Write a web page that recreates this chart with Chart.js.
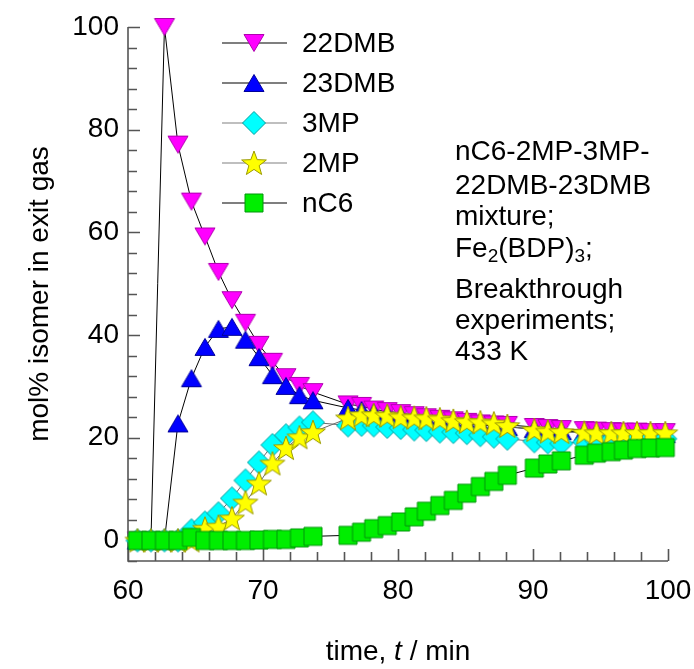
<!DOCTYPE html>
<html>
<head>
<meta charset="utf-8">
<script src="https://cdn.jsdelivr.net/npm/chart.js@4.4.1/dist/chart.umd.min.js"></script>
<style>
  html, body { margin: 0; padding: 0; background: #fff; }
  #wrap { width: 694px; height: 669px; }
</style>
</head>
<body>
<div id="wrap"><canvas id="c" width="694" height="669"></canvas></div>
<script>
// Sampling times (min) of the exit-gas analysis
const times = [60.7, 61.7, 62.7, 63.7, 64.7, 65.7, 66.7, 67.7, 68.7, 69.7, 70.7, 71.7, 72.7, 73.7,
  76.3, 77.3, 78.2, 79.2, 80.2, 81.2, 82.1, 83.1, 84.1, 85.1, 86.1, 87.1, 88.1,
  90.1, 91.1, 92.1,
  93.8, 94.7, 95.8, 96.7, 97.7, 98.7, 99.8];

// mol% of each isomer in the exit gas
const dmb22 = [0, 0, 100, 77.1, 66.0, 59.2, 52.3, 46.8, 42.4, 38.1, 34.8, 31.8, 30.1, 28.9,
  26.5, 26.2, 25.5, 25.2, 24.8, 24.4, 24.0, 23.7, 23.4, 23.1, 22.8, 22.6, 22.5,
  22.1, 21.9, 21.7,
  21.5, 21.4, 21.3, 21.2, 21.2, 21.1, 21.1];
const dmb23 = [0, 0, 0, 22.8, 31.6, 37.7, 41.2, 41.6, 39.1, 35.7, 32.2, 30.1, 28.3, 27.3,
  25.8, 25.4, 24.9, 24.6, 24.2, 23.9, 23.6, 23.3, 23.0, 22.8, 22.5, 22.3, 22.1,
  21.7, 21.5, 21.3,
  21.1, 21.0, 20.9, 20.9, 20.8, 20.8, 20.7];
const mp3 = [0, 0, 0, 0, 2.0, 3.5, 5.3, 8.2, 11.7, 15.2, 18.6, 20.5, 22.0, 23.0,
  22.4, 22.5, 22.4, 22.1, 21.9, 21.6, 21.5, 21.2, 21.1, 20.9, 20.5, 20.2, 19.8,
  19.3, 19.1, 18.9,
  19.2, 19.4, 19.5, 19.6, 19.7, 19.7, 19.8];
const mp2 = [0, 0, 0, 0, 0, 2.3, 2.7, 4.3, 7.4, 11.1, 15.0, 18.0, 20.1, 21.1,
  23.8, 24.4, 24.4, 24.3, 24.0, 23.9, 23.8, 23.6, 23.3, 23.1, 23.0, 22.8, 22.3,
  21.5, 21.2, 21.1,
  21.0, 20.9, 20.9, 20.9, 20.9, 20.9, 20.9];
const nc6 = [0, 0, 0, 0, 0.6, 0, 0, 0, 0, 0.1, 0.2, 0.2, 0.5, 0.8,
  1.0, 1.6, 2.3, 2.9, 3.6, 4.6, 5.7, 6.8, 7.8, 9.2, 10.5, 11.5, 12.7,
  14.1, 14.9, 15.5,
  16.6, 17.0, 17.3, 17.6, 17.9, 18.0, 18.1];

const seriesNames = ['22DMB', '23DMB', '3MP', '2MP', 'nC6'];
const xTicks = [60, 70, 80, 90, 100];
const yTicks = [0, 20, 40, 60, 80, 100];
const noteLines = ['nC6-2MP-3MP-', '22DMB-23DMB', 'mixture;', 'Fe|2|(BDP)|3|;', 'Breakthrough', 'experiments;', '433 K'];

const FONT = '"Liberation Sans", Arial, sans-serif';
const FS = 28;

// Marker sprites drawn once and used as point styles
function makeMarker(kind, fill, stroke) {
  const S = 32, m = S / 2;
  const c = document.createElement('canvas');
  c.width = S; c.height = S;
  const g = c.getContext('2d');
  g.fillStyle = fill; g.strokeStyle = stroke; g.lineWidth = 1; g.lineJoin = 'miter';
  g.beginPath();
  if (kind === 'down') {
    const w = 20, h = 17;
    g.moveTo(m - w / 2, m - h / 2); g.lineTo(m + w / 2, m - h / 2); g.lineTo(m, m + h / 2);
  } else if (kind === 'up') {
    const w = 20, h = 17;
    g.moveTo(m - w / 2, m + h / 2); g.lineTo(m + w / 2, m + h / 2); g.lineTo(m, m - h / 2);
  } else if (kind === 'diamond') {
    const r = 11.5;
    g.moveTo(m - r, m); g.lineTo(m, m - r); g.lineTo(m + r, m); g.lineTo(m, m + r);
  } else if (kind === 'square') {
    const s = 9;
    g.rect(m - s, m - s, 2 * s, 2 * s);
  } else if (kind === 'star') {
    const R = 13, r = 5.4;
    for (let i = 0; i < 10; i++) {
      const a = -Math.PI / 2 + i * Math.PI / 5;
      const rr = i % 2 === 0 ? R : r;
      const px = m + rr * Math.cos(a), py = m + 1 + rr * Math.sin(a);
      if (i === 0) g.moveTo(px, py); else g.lineTo(px, py);
    }
  }
  g.closePath();
  g.fill(); g.stroke();
  return c;
}

const styles = [
  { marker: makeMarker('down', '#ff00ff', '#b000b0'), line: '#000000', order: 4 },
  { marker: makeMarker('up', '#0000ff', '#00009a'), line: '#000000', order: 3 },
  { marker: makeMarker('diamond', '#00ffff', '#00a0a0'), line: '#6a6a6a', order: 2 },
  { marker: makeMarker('star', '#ffff00', '#9a9a00'), line: '#6a6a6a', order: 1 },
  { marker: makeMarker('square', '#00ee00', '#00960a'), line: '#000000', order: 0 }
];
const values = [dmb22, dmb23, mp3, mp2, nc6];

const datasets = seriesNames.map((name, i) => ({
  label: name,
  data: times.map((t, k) => ({ x: t, y: values[i][k] })),
  borderColor: styles[i].line,
  borderWidth: 1,
  pointStyle: styles[i].marker,
  pointRadius: 12,
  pointHoverRadius: 12,
  tension: 0,
  order: styles[i].order,
  clip: false
}));

// Left and bottom axes with inward ticks
const axesPlugin = {
  id: 'axesPlugin',
  beforeDatasetsDraw(chart) {
    const { ctx, chartArea: a, scales: { x, y } } = chart;
    ctx.save();
    ctx.strokeStyle = '#555';
    ctx.lineWidth = 1.6;
    ctx.beginPath();
    ctx.moveTo(a.left, a.top); ctx.lineTo(a.left, a.bottom); ctx.lineTo(a.right, a.bottom);
    for (let v = 60; v <= 100; v += 2) {
      const px = Math.round(x.getPixelForValue(v)) + 0.5;
      const len = v % 10 === 0 ? 12 : 9;
      ctx.moveTo(px, a.bottom); ctx.lineTo(px, a.bottom - len);
    }
    for (let v = -4; v <= 100; v += 4) {
      const py = Math.round(y.getPixelForValue(v)) + 0.5;
      const len = v % 20 === 0 ? 12 : 9;
      ctx.moveTo(a.left, py); ctx.lineTo(a.left + len, py);
    }
    ctx.stroke();
    ctx.restore();
  }
};

// Legend, side note and axis titles
const textPlugin = {
  id: 'textPlugin',
  afterDraw(chart) {
    const { ctx, chartArea: a } = chart;
    ctx.save();
    ctx.fillStyle = '#000';
    ctx.textBaseline = 'middle';
    ctx.font = FS + 'px ' + FONT;

    // legend
    const rowY = [43, 83, 123, 163, 203];
    seriesNames.forEach((name, i) => {
      const yy = rowY[i];
      ctx.strokeStyle = i === 2 || i === 3 ? '#808080' : '#000';
      ctx.lineWidth = 1.2;
      ctx.beginPath(); ctx.moveTo(222, yy); ctx.lineTo(287, yy); ctx.stroke();
      const mk = styles[i].marker;
      ctx.drawImage(mk, 254 - mk.width / 2, yy - mk.height / 2);
      ctx.textAlign = 'left';
      ctx.fillText(name, 302, yy + 1);
    });

    // side note
    const noteY = [152, 186, 217, 249, 290, 321, 352];
    noteLines.forEach((line, i) => {
      let xx = 455;
      const parts = line.split('|');
      parts.forEach((p, k) => {
        const sub = k % 2 === 1;
        ctx.font = (sub ? 19 : FS) + 'px ' + FONT;
        ctx.fillText(p, xx, noteY[i] + (sub ? 8 : 0));
        xx += ctx.measureText(p).width;
      });
    });

    // x title with italic symbol
    const segs = [['time, ', ''], ['t', 'italic '], [' / min', '']];
    let total = 0;
    segs.forEach(s => { ctx.font = s[1] + FS + 'px ' + FONT; total += ctx.measureText(s[0]).width; });
    let xx = (a.left + a.right) / 2 - total / 2;
    segs.forEach(s => {
      ctx.font = s[1] + FS + 'px ' + FONT;
      ctx.fillText(s[0], xx, 652);
      xx += ctx.measureText(s[0]).width;
    });

    // y title
    ctx.font = FS + 'px ' + FONT;
    ctx.translate(40, (a.top + a.bottom) / 2);
    ctx.rotate(-Math.PI / 2);
    ctx.textAlign = 'center';
    ctx.fillText('mol% isomer in exit gas', 0, 0);
    ctx.restore();
  }
};

new Chart(document.getElementById('c'), {
  type: 'line',
  data: { datasets },
  options: {
    responsive: false,
    animation: false,
    events: [],
    layout: { padding: { top: 27, right: 26, left: 0, bottom: 0 } },
    plugins: { legend: { display: false }, tooltip: { enabled: false } },
    scales: {
      x: {
        type: 'linear', min: 60, max: 100,
        grid: { display: false, drawTicks: false },
        border: { display: false },
        ticks: { color: '#000', font: { family: FONT, size: FS }, padding: 13, maxRotation: 0 },
        afterBuildTicks: s => { s.ticks = xTicks.map(v => ({ value: v })); },
        afterFit: s => { s.height = 108; s.paddingLeft = 0; s.paddingRight = 0; }
      },
      y: {
        type: 'linear', min: -4, max: 100,
        grid: { display: false, drawTicks: false },
        border: { display: false },
        ticks: { color: '#000', font: { family: FONT, size: FS }, padding: 9 },
        afterBuildTicks: s => { s.ticks = yTicks.map(v => ({ value: v })); },
        afterFit: s => { s.width = 128; s.paddingTop = 0; s.paddingBottom = 0; }
      }
    }
  },
  plugins: [axesPlugin, textPlugin]
});
</script>
</body>
</html>
